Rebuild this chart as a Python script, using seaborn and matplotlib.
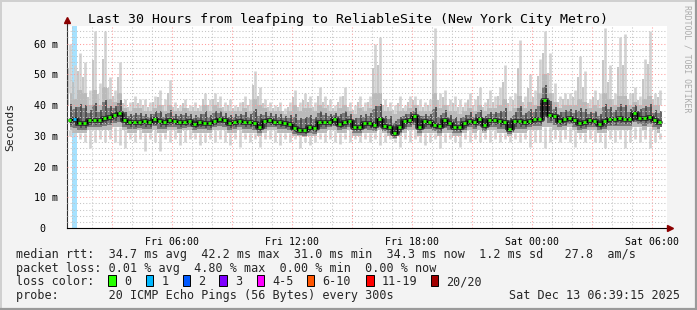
import numpy as np
import matplotlib
matplotlib.use("Agg")
import matplotlib.pyplot as plt
from matplotlib.patches import Rectangle
from matplotlib.lines import Line2D
import seaborn as sns

# ---------------- data ----------------
title = "Last 30 Hours from leafping to ReliableSite (New York City Metro)"
start_hour = 0.75      # Fri 00:45, hours since Fri 00:00
bin_hours = 0.25       # 15 minute bins

median_ms = [
    35.2, 35.4, 34.0, 34.2, 35.0, 35.0, 35.2, 35.8, 36.0, 36.8, 37.4, 35.0, 34.6, 34.5, 34.4, 34.8, 34.5, 35.3, 34.8, 34.4,
    35.0, 34.8, 34.6, 34.5, 34.8, 33.8, 34.5, 34.3, 34.0, 34.8, 35.6, 35.0, 34.2, 34.5, 34.8, 34.6, 34.5, 34.0, 32.8, 34.8,
    35.0, 34.6, 34.5, 34.3, 33.7, 32.4, 32.0, 31.8, 33.0, 32.6, 34.6, 34.5, 34.6, 35.3, 33.8, 34.5, 34.8, 33.0, 32.8, 34.3,
    34.0, 33.5, 35.3, 33.2, 33.0, 31.0, 32.7, 34.8, 35.0, 36.3, 33.0, 34.8, 34.6, 33.4, 33.2, 35.0, 34.2, 32.8, 32.7, 34.2,
    34.8, 34.5, 35.3, 33.4, 35.0, 35.0, 34.8, 34.4, 32.2, 34.8, 34.8, 34.5, 34.8, 35.6, 35.5, 41.6, 36.8, 36.4, 34.8, 35.3,
    35.9, 35.0, 34.2, 34.5, 35.0, 34.8, 33.7, 34.8, 35.3, 35.3, 35.8, 35.6, 35.6, 37.4, 35.9, 35.8, 36.0, 35.0, 34.6,
]
max_ms = [
    60, 53, 57, 54, 45, 64, 47, 64, 49, 45, 54, 42, 41, 43, 42, 42, 41, 43, 45, 42,
    48, 41, 40, 42, 40, 41, 40, 44, 42, 44, 43, 41, 42, 40, 41, 43, 42, 51, 46, 42,
    41, 40, 41, 39, 41, 45, 41, 44, 43, 41, 46, 43, 42, 40, 43, 46, 41, 40, 43, 41,
    43, 60, 62, 42, 41, 40, 43, 40, 43, 43, 42, 41, 42, 65, 44, 45, 42, 43, 42, 41,
    44, 42, 46, 41, 45, 43, 46, 53, 43, 44, 61, 43, 50, 45, 55, 64, 57, 47, 43, 44,
    44, 45, 56, 51, 42, 45, 44, 65, 53, 44, 62, 63, 44, 46, 43, 55, 64, 44, 45,
]
p90_ms = [
    44, 42, 45, 44, 40, 45, 40, 46, 42, 41, 44, 39, 38, 39, 39, 38, 38, 39, 40, 38,
    40, 38, 38, 39, 38, 38, 38, 40, 38, 40, 39, 38, 38, 38, 38, 39, 38, 42, 40, 39,
    38, 38, 38, 37, 38, 40, 38, 39, 39, 38, 40, 39, 38, 38, 39, 40, 38, 37, 39, 38,
    39, 44, 44, 38, 38, 37, 38, 38, 39, 40, 38, 38, 38, 44, 39, 40, 38, 38, 37, 38,
    39, 38, 40, 38, 39, 39, 40, 42, 38, 39, 43, 39, 41, 40, 44, 50, 44, 41, 39, 40,
    40, 40, 42, 41, 39, 40, 39, 44, 42, 40, 43, 43, 40, 41, 40, 42, 43, 40, 40,
]
p10_ms = [
    32, 31, 31, 31, 32, 32, 32, 32, 32, 33, 33, 32, 31, 31, 32, 31, 31, 32, 31, 31,
    32, 32, 31, 32, 32, 31, 31, 31, 31, 32, 32, 32, 31, 31, 32, 31, 31, 31, 30, 31,
    32, 32, 31, 31, 31, 30, 30, 29.5, 30, 30, 31, 31, 32, 32, 31, 31, 32, 30, 30, 31,
    31, 31, 32, 31, 30, 29, 30, 31, 32, 32, 30, 31, 31, 31, 30, 31, 31, 30, 30, 31,
    32, 31, 32, 31, 32, 32, 31, 31, 30, 31, 31, 31, 32, 32, 32, 33, 33, 32, 32, 32,
    33, 32, 31, 31, 32, 32, 31, 31, 32, 32, 32, 32, 32, 33, 33, 32, 33, 32, 31,
]
min_ms = [
    30, 30, 29, 28, 26, 28, 29, 28, 29, 28, 27, 26, 29, 28, 29, 25, 29, 28, 25, 29,
    28, 29, 27, 28, 29, 29, 27, 28, 29, 28, 29, 28, 27, 29, 26.5, 29, 28, 29, 26.5, 29,
    29, 28, 27, 29, 28, 29, 26, 28, 27, 28, 29, 28, 29, 28, 27.4, 29, 28, 29, 28, 29,
    28, 29, 27, 28, 29, 28, 26.5, 29, 28, 29, 28, 27, 28, 29, 26, 28, 29, 28, 26.5, 29,
    28, 29, 28, 29, 28, 29, 28, 29, 28, 29, 28, 29, 26.5, 28, 28, 26, 28, 29, 28, 29,
    28, 26.5, 29, 28, 29, 28, 28, 26, 29, 28, 29, 26, 28, 29, 28, 29, 26, 28, 29,
]
loss_events = {1: 1}   # bin index -> lost pings (of 20)

xtick_hours = [6, 12, 18, 24, 30]
xtick_labels = ["Fri 06:00", "Fri 12:00", "Fri 18:00", "Sat 00:00", "Sat 06:00"]
ytick_vals = [0, 10, 20, 30, 40, 50, 60]
ytick_labels = ["0  ", "10 m", "20 m", "30 m", "40 m", "50 m", "60 m"]

loss_labels = ["0", "1", "2", "3", "4-5", "6-10", "11-19", "20/20"]
loss_colors = ["#26ff00", "#00b8ff", "#0059ff", "#7e00ff", "#ff00ff", "#ff5500", "#ff0000", "#a10000"]

legend_line1 = "median rtt:  34.7 ms avg  42.2 ms max  31.0 ms min  34.3 ms now  1.2 ms sd   27.8  am/s"
legend_line2 = "packet loss: 0.01 % avg  4.80 % max  0.00 % min  0.00 % now"
legend_line3 = "loss color:"
legend_line4 = "probe:       20 ICMP Echo Pings (56 Bytes) every 300s"
stamp = "Sat Dec 13 06:39:15 2025"
ylabel = "Seconds"
watermark = "RRDTOOL / TOBI OETIKER"

# ---------------- figure ----------------
sns.set_theme(style="white")
MONO = ["DejaVu Sans Mono"]
plt.rcParams["font.family"] = MONO

W, H = 697, 310
fig = plt.figure(figsize=(W / 100, H / 100), dpi=100, facecolor="#f3f3f3")

def fx(px):
    return px / W

def fy(py):
    return 1 - py / H

ax_left, ax_right, ax_top, ax_bottom = 67, 667, 26, 228
ax = fig.add_axes([fx(ax_left), fy(ax_bottom), (ax_right - ax_left) / W, (ax_bottom - ax_top) / H])
ax.set_facecolor("white")

n = len(median_ms)
t = start_hour + bin_hours * (np.arange(n) + 0.5)
med = np.array(median_ms)
hi = np.array(p90_ms)
lo = np.array(p10_ms)
mx = np.array(max_ms)
mn = np.array(min_ms)

# loss background columns
for idx, cnt in loss_events.items():
    ax.axvspan(t[idx] - bin_hours / 2, t[idx] + bin_hours / 2, color="#a6e2ff", lw=0, zorder=0.5)

# smoke: thin spikes for extremes, filled bands for the body
ax.vlines(t, hi, mx, colors="#d2d2d2", lw=1.9, zorder=1)
ax.vlines(t - 0.1, (hi + med) / 2, (hi + mx) / 2, colors="#bcbcbc", lw=1.2, zorder=1)
ax.vlines(t, mn, lo, colors="#d2d2d2", lw=1.9, zorder=1)
ax.fill_between(t, lo, hi, step="mid", color="#bababa", lw=0, zorder=1.05)
ax.fill_between(t, (lo + med) / 2 - 0.6, (hi + med) / 2, step="mid", color="#7a7a7a", lw=0, zorder=1.1)
ax.vlines(t + 0.06, (lo + med) / 2, (hi + med) / 2 + 0.8, colors="#484848", lw=1.2, zorder=1.15)
sns.lineplot(x=t, y=med, drawstyle="steps-mid", color="#202020", lw=3.4, alpha=0.85, ax=ax, zorder=1.3)
sns.lineplot(x=t, y=med, drawstyle="steps-mid", color="#000000", lw=0.9, ax=ax, zorder=3)

# median coloured by loss
def loss_col(c):
    if c == 0:
        return loss_colors[0]
    if c <= 3:
        return loss_colors[c]
    if c <= 5:
        return loss_colors[4]
    if c <= 10:
        return loss_colors[5]
    if c <= 19:
        return loss_colors[6]
    return loss_colors[7]

cols = [loss_col(loss_events.get(i, 0)) for i in range(n)]
ax.hlines(med, t - 0.065, t + 0.065, colors=cols, lw=2.0, zorder=3.5)

ax.set_xlim(start_hour, start_hour + 30)
ax.set_ylim(0, 65.7)

# grid / ticks
major_x = np.arange(3, 31, 3)
ax.set_xticks(major_x)
ax.set_xticklabels([xtick_labels[xtick_hours.index(h)] if h in xtick_hours else "" for h in major_x])
ax.set_xticks(np.arange(1, 31, 1), minor=True)
ax.set_yticks(ytick_vals)
ax.set_yticklabels(ytick_labels)
ax.set_yticks(np.arange(0, 66, 2), minor=True)
ax.set_axisbelow(False)
ax.grid(which="major", color="#ff9c9c", linestyle=(0, (1, 2)), lw=0.75, zorder=2.5)
ax.grid(which="minor", color="#c4c4c4", linestyle=(0, (1, 2)), lw=0.75, zorder=2.4)

ax.tick_params(axis="x", which="major", direction="out", length=2.2, width=0.7, color="#ff8080",
               labelsize=7.1, pad=4, labelcolor="#000000")
ax.tick_params(axis="x", which="minor", direction="out", length=1.5, width=0.7, color="#a0a0a0")
ax.tick_params(axis="y", which="major", direction="out", length=2.5, width=0.7, color="#000000",
               labelsize=7.2, pad=4, labelcolor="#000000")
ax.tick_params(axis="y", which="minor", direction="out", length=1.2, width=0.6, color="#808080")
for lab in ax.get_xticklabels() + ax.get_yticklabels():
    lab.set_family(MONO)

for s in ["top", "right"]:
    ax.spines[s].set_visible(False)
ax.spines["left"].set_color("#303030")
ax.spines["bottom"].set_color("#000000")
ax.spines["left"].set_linewidth(0.8)
ax.spines["bottom"].set_linewidth(0.8)

# axis extensions and arrows
fig.add_artist(Line2D([fx(67), fx(67)], [fy(ax_top), fy(22)], color="#303030", lw=0.8))
fig.add_artist(Line2D([fx(ax_right), fx(669)], [fy(228), fy(228)], color="#000000", lw=0.8))
fig.add_artist(Line2D([fx(67)], [fy(20)], marker="^", color="#8b0000", markersize=4.5, lw=0))
fig.add_artist(Line2D([fx(670)], [fy(228)], marker=">", color="#8b0000", markersize=4.5, lw=0))

# texts
fig.text(fx(347.5), fy(19), title, ha="center", va="center", fontsize=9.5, family=MONO, color="#000000")
fig.text(fx(10), fy(127), ylabel, ha="center", va="center", rotation=90, fontsize=8.2, family=MONO)
fig.text(fx(687.5), fy(5), watermark, ha="center", va="top", rotation=270, fontsize=5.9,
         family=MONO, color="#ababab")

lx = 16
fs = 8.45
fig.text(fx(lx), fy(254.3), legend_line1, ha="left", va="center", fontsize=fs, family=MONO)
fig.text(fx(lx), fy(268.3), legend_line2, ha="left", va="center", fontsize=fs, family=MONO)
fig.text(fx(lx), fy(281.7), legend_line3, ha="left", va="center", fontsize=fs, family=MONO)
fig.text(fx(lx), fy(295.7), legend_line4, ha="left", va="center", fontsize=fs, family=MONO)
fig.text(fx(680), fy(295.7), stamp, ha="right", va="center", fontsize=fs, family=MONO)

box_x = [108.3, 145.7, 182.7, 219.3, 256.7, 306.7, 366.0, 430.7]
for bx, lab, c in zip(box_x, loss_labels, loss_colors):
    fig.add_artist(Rectangle((fx(bx), fy(286)), 7.5 / W, 11 / H, facecolor=c,
                             edgecolor="#000000", lw=0.7))
    fig.text(fx(bx + 15.7), fy(281.7), lab, ha="left", va="center", fontsize=fs, family=MONO)

# frame border
fig.add_artist(Line2D([0, 1], [fy(0.5), fy(0.5)], color="#d0d0d0", lw=1.4))
fig.add_artist(Line2D([fx(0.5), fx(0.5)], [0, 1], color="#d0d0d0", lw=1.4))
fig.add_artist(Line2D([0, 1], [fy(309), fy(309)], color="#9a9a9a", lw=1.6))
fig.add_artist(Line2D([fx(696), fx(696)], [0, 1], color="#9a9a9a", lw=1.6))

fig.savefig("out.png", dpi=100, facecolor=fig.get_facecolor())
